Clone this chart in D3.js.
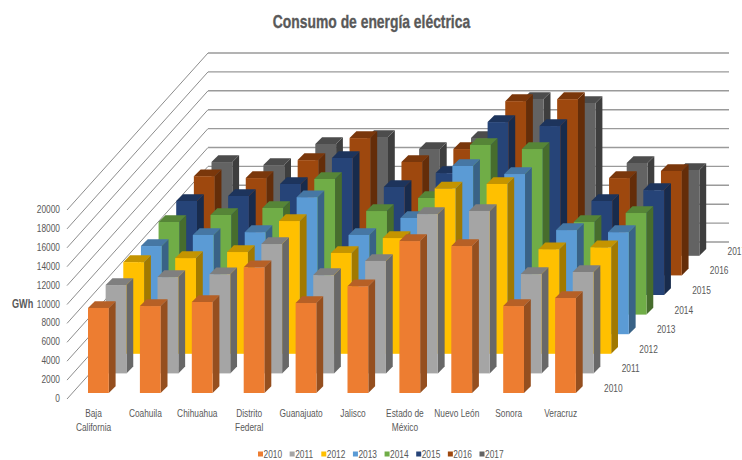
<!DOCTYPE html>
<html>
<head>
<meta charset="utf-8">
<script src="https://cdn.jsdelivr.net/npm/d3@7/dist/d3.min.js"></script>
<style>
  html, body { margin: 0; padding: 0; background: #fff; }
  svg { display: block; }
  text { font-family: "Liberation Sans", sans-serif; fill: #595959; }
</style>
</head>
<body>
<svg id="chart" width="742" height="460"></svg>
<script>
// Electricity consumption by state and year (GWh)
const categories = ["Baja California", "Coahuila", "Chihuahua", "Distrito Federal", "Guanajuato",
  "Jalisco", "Estado de México", "Nuevo León", "Sonora", "Veracruz"];
const years = ["2010", "2011", "2012", "2013", "2014", "2015", "2016", "2017"];
const yTicks = [0, 2000, 4000, 6000, 8000, 10000, 12000, 14000, 16000, 18000, 20000];
const colors = ["#ED7D31", "#A5A5A5", "#FFC000", "#5B9BD5", "#70AD47", "#264478", "#9E480E", "#636363"];

const v2010 = [9000, 9200, 9630, 13300, 9520, 11300, 16080, 15550, 9200, 10050];
const v2011 = [9350, 10190, 10500, 13690, 10400, 11900, 16860, 17190, 10510, 10730];
const v2012 = [9700, 10130, 10770, 14050, 10670, 12250, 17500, 17970, 11070, 11270];
const v2013 = [9330, 10500, 10800, 14500, 10500, 12300, 17800, 16950, 11020, 10800];
const v2014 = [9800, 10540, 11280, 14350, 10960, 12340, 17950, 17520, 9800, 10750];
const v2015 = [9950, 10480, 11750, 14500, 11430, 12900, 18300, 17880, 9950, 11100];
const v2016 = [10500, 10300, 12200, 14530, 12000, 13370, 18440, 18650, 10300, 11050];
const v2017 = [9920, 9600, 11830, 12570, 11300, 12470, 16600, 16170, 9820, 9080];
const seriesValues = [v2010, v2011, v2012, v2013, v2014, v2015, v2016, v2017];

const svg = d3.select("#chart");

// Oblique projection: category runs left to right, series runs back and to the right
const xCat = d3.scalePoint().domain(categories).range([88, 555.1]);
const depthX = d3.scalePoint().domain(years).range([0, 123.5]);
const depthY = d3.scalePoint().domain(years).range([0, -137.2]);
const yVal = d3.scaleLinear().domain([0, 20000]).range([0, -189]);

const baseY = 393;
const barW = 20.8, sideX = 6.8, sideY = -6.8;
const wall = { left: 67, floorY: 399, backX: 208, backY: 242, right: 729 };

// Narrow lettering: the sans face is squeezed horizontally about its anchor point
const squeeze = 0.76;
function label(parent, x, y, str, size, opts = {}) {
  return parent.append("text")
    .attr("transform", `translate(${x},${y}) scale(${opts.squeeze || squeeze},1)`)
    .attr("text-anchor", opts.anchor || "start")
    .attr("font-size", size)
    .attr("font-weight", opts.weight || "normal")
    .text(str);
}

// Wall gridlines: diagonal on the left wall, horizontal on the back wall
const grid = svg.append("g").attr("fill", "none");
yTicks.forEach(t => {
  const dy = yVal(t);
  grid.append("line")
    .attr("x1", wall.left).attr("y1", wall.floorY + dy)
    .attr("x2", wall.backX).attr("y2", wall.backY + dy)
    .attr("stroke", "#7f7f7f").attr("stroke-width", 0.9);
  grid.append("line")
    .attr("x1", wall.backX).attr("y1", wall.backY + dy)
    .attr("x2", wall.right).attr("y2", wall.backY + dy)
    .attr("stroke", "#9a9a9a").attr("stroke-width", 1.4);
});

const shade = (c, k) => {
  const r = d3.rgb(c);
  return d3.rgb(r.r * k, r.g * k, r.b * k).formatHex();
};
const poly = d3.line();

// Bars, furthest series first so nearer bars overlap them
const bars = svg.append("g");
d3.range(years.length - 1, -1, -1).forEach(si => {
  const year = years[si];
  const color = colors[si];
  const row = bars.append("g").attr("class", "series-" + year);
  categories.forEach((cat, ci) => {
    const x0 = xCat(cat) + depthX(year);
    const y0 = baseY + depthY(year);
    const y1 = y0 + yVal(seriesValues[si][ci]);
    const x1 = x0 + barW;
    row.append("path")
      .attr("d", poly([[x1, y0], [x1 + sideX, y0 + sideY], [x1 + sideX, y1 + sideY], [x1, y1]]) + "Z")
      .attr("fill", shade(color, 0.63));
    row.append("path")
      .attr("d", poly([[x0, y1], [x1, y1], [x1 + sideX, y1 + sideY], [x0 + sideX, y1 + sideY]]) + "Z")
      .attr("fill", shade(color, 0.77));
    row.append("rect")
      .attr("x", x0).attr("y", y1).attr("width", barW).attr("height", y0 - y1)
      .attr("fill", color);
  });
});

// Value axis on the front edge of the left wall
const yAxisScale = d3.scaleLinear().domain([0, 20000]).range([398, 209]);
const yAxis = svg.append("g").attr("transform", "translate(60,0)")
  .call(d3.axisLeft(yAxisScale).tickValues(yTicks).tickSize(0).tickPadding(0).tickFormat(d3.format("d")));
yAxis.select(".domain").remove();
yAxis.selectAll("text")
  .attr("x", 0)
  .attr("transform", `scale(${squeeze},1)`)
  .attr("font-size", 11)
  .style("font-family", '"Liberation Sans", sans-serif')
  .style("fill", "#595959");

label(svg, 12, 308, "GWh", 12, { weight: "bold" });

// Category labels, wrapped onto two lines where the name is long
const wrapped = { "Baja California": ["Baja", "California"], "Distrito Federal": ["Distrito", "Federal"],
  "Estado de México": ["Estado de", "México"] };
const catLabels = svg.append("g");
categories.forEach(cat => {
  (wrapped[cat] || [cat]).forEach((line, i) => {
    label(catLabels, xCat(cat) + 5.5, 416.5 + i * 14.3, line, 11, { anchor: "middle" });
  });
});

// Series labels along the right edge of the floor
const depthLabels = svg.append("g");
years.forEach(y => {
  label(depthLabels, 604 + depthX(y), 392 + depthY(y), y, 11);
});

// Title
label(svg, 371.5, 28, "Consumo de energía eléctrica", 18.5, { anchor: "middle", weight: "bold", squeeze: 0.75 })
  .attr("stroke", "#595959").attr("stroke-width", 0.35);

// Legend
const legendX = d3.scalePoint().domain(years).range([258, 479.5]);
const legend = svg.append("g");
years.forEach((y, i) => {
  legend.append("rect").attr("x", legendX(y)).attr("y", 451.5).attr("width", 5).attr("height", 5).attr("fill", colors[i]);
  label(legend, legendX(y) + 5.5, 458, y, 11);
});
</script>
</body>
</html>
